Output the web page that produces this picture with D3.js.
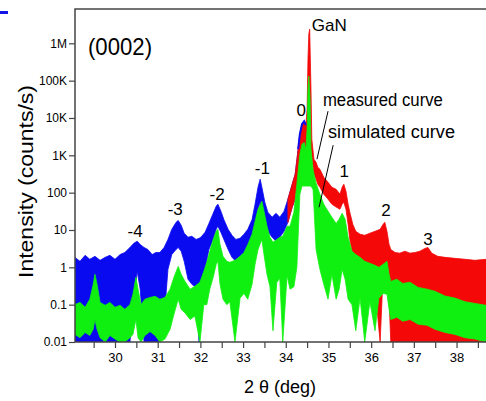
<!DOCTYPE html>
<html><head><meta charset="utf-8">
<script src="https://cdn.jsdelivr.net/npm/d3@7"></script>
<style>body{margin:0;background:#fff} svg{display:block} text{font-family:"Liberation Sans",Arial,Helvetica,sans-serif;fill:#000}</style>
</head><body><svg id="c" width="486" height="401"></svg>
<script>
// ---- data ----
const measX = [29.06,29.18,29.30,29.41,29.53,29.65,29.77,29.88,30.00,30.12,30.23,30.35,30.44,30.52,30.59,30.68,30.77,30.87,30.96,31.05,31.15,31.24,31.33,31.43,31.48,31.55,31.62,31.71,31.80,31.90,31.97,32.01,32.11,32.20,32.30,32.37,32.41,32.48,32.55,32.65,32.74,32.83,32.93,33.02,33.11,33.21,33.28,33.35,33.40,33.44,33.51,33.58,33.68,33.77,33.86,33.96,34.05,34.15,34.22,34.29,34.33,34.38,34.43,34.47,34.50,34.52,34.54,34.56,34.57,34.59,34.61,34.66,34.71,34.75,34.80,34.89,34.99,35.08,35.18,35.27,35.32,35.36,35.41,35.46,35.50,35.57,35.64,35.74,35.85,35.97,36.09,36.21,36.28,36.32,36.37,36.42,36.46,36.56,36.67,36.79,36.91,37.03,37.14,37.26,37.33,37.42,37.56,37.73,37.96,38.20,38.43,38.69];
const measHi = [1.85,1.45,2.1,1.64,1.97,1.54,1.85,2.1,1.64,2.2,2.5,3.4,4.4,5.0,4.1,3.4,3.0,2.2,2.5,2.5,3.4,5.6,10.4,16,18,13.4,8.2,6.4,6.8,5.6,6.0,6.4,8.7,15,28,43,49,32,19,10.4,7.2,5.6,6.0,7.7,10.4,19,49,140,229,140,55,30,22,28,22,32,67,168,311,1460,3680,6800,8200,6400,17200,377000,1770000,2400000,700000,59000,2700,785,653,480,424,259,190,140,123,91,140,168,109,49,30,14.2,9.2,7.7,7.2,8.2,9.2,10.4,14.2,16,9.2,4.1,3.0,2.5,2.4,2.7,2.4,2.5,2.7,3.2,3.4,2.4,1.97,1.85,1.74,1.64,1.54,1.64];
const measLo = [0.01,0.01,0.01,0.01,0.01,0.01,0.01,0.01,0.01,0.01,0.01,0.01,0.14,0.78,0.26,0.01,0.01,0.01,0.01,0.01,0.04,0.88,2.2,3.0,3.4,2.7,1.45,0.48,0.35,0.29,0.01,0.35,0.88,3.0,5.6,10.4,12.6,8.7,5.6,3.0,1.85,1.45,1.45,2.2,3.0,5.6,14.2,36,55,32,16,9.2,6.4,5.0,6.4,9.2,16,41,67,229,577,1460,2700,1460,1460,1460,1460,1460,1460,1400,889,311,229,168,140,91,67,49,41,36,49,55,36,14.2,5.6,2.2,1.2,0.88,1.45,0.65,0.3,0.01,0.65,1.2,0.48,0.14,0.01,0.01,0.01,0.01,0.01,0.01,0.01,0.01,0.01,0.01,0.01,0.01,0.01,0.01,0.01,0.01];

const simX = [29.06,29.18,29.30,29.41,29.49,29.53,29.58,29.65,29.77,29.88,30.00,30.12,30.23,30.35,30.42,30.49,30.54,30.61,30.70,30.82,30.94,31.05,31.17,31.29,31.38,31.48,31.55,31.64,31.76,31.87,31.99,32.08,32.15,32.22,32.30,32.37,32.41,32.46,32.53,32.62,32.69,32.81,32.93,33.02,33.11,33.21,33.28,33.35,33.44,33.49,33.56,33.63,33.70,33.79,33.86,33.93,34.03,34.10,34.19,34.26,34.33,34.38,34.43,34.47,34.50,34.52,34.54,34.57,34.59,34.64,34.71,34.80,34.89,34.99,35.08,35.18,35.25,35.32,35.39,35.46,35.55,35.64,35.74,35.85,35.97,36.09,36.18,36.28,36.37,36.42,36.46,36.60,36.74,36.91,37.10,37.31,37.49,37.73,37.96,38.20,38.43,38.69];
const simHi = [0.10,0.115,0.085,0.14,0.35,0.65,0.35,0.115,0.096,0.115,0.085,0.096,0.075,0.10,0.19,0.54,0.26,0.10,0.14,0.156,0.167,0.14,0.156,0.26,0.54,1.06,0.65,0.42,0.26,0.31,0.40,0.78,1.36,2.7,5.6,9.2,10.4,4.1,1.97,1.45,1.36,1.54,1.97,2.5,4.1,7.7,17,36,59,32,12.6,6.4,4.7,5.6,6.4,6.8,12.6,12.6,30,168,1070,1990,2200,1460,5000,59000,132000,32000,1500,400,180,90,49,32,22,15,19.5,28,19.5,6.4,2.7,2.2,1.85,1.45,1.28,1.13,1.0,1.2,1.45,0.65,0.42,0.48,0.37,0.40,0.29,0.26,0.23,0.17,0.15,0.12,0.108,0.096];
const simLo = [0.016,0.013,0.018,0.015,0.022,0.04,0.022,0.013,0.01,0.015,0.012,0.01,0.01,0.013,0.016,0.04,0.013,0.01,0.015,0.019,0.015,0.01,0.012,0.022,0.055,0.14,0.075,0.06,0.04,0.05,0.01,0.1,0.10,0.26,0.54,1.2,1.45,0.35,0.14,0.1,0.12,0.01,0.15,0.2,0.14,0.35,1.2,3.0,5.6,2.2,0.65,0.3,0.02,0.4,0.5,0.01,0.6,0.26,0.3,1.0,90,150,150,150,150,150,150,150,150,120,3.0,0.88,0.35,0.14,0.65,0.14,0.26,0.88,0.48,0.14,0.1,0.02,0.15,0.01,0.12,0.02,0.15,0.2,0.19,0.075,0.04,0.046,0.036,0.04,0.03,0.028,0.022,0.018,0.016,0.013,0.012,0.01];

const yTickValues = [0.01,0.1,1,10,100,1e3,1e4,1e5,1e6];
const yTickLabels = ["0.01","0.1","1","10","100","1K","10K","100K","1M"];
const xTickValues = [29.5,30,30.5,31,31.5,32,32.5,33,33.5,34,34.5,35,35.5,36,36.5,37,37.5,38,38.5];
const xTickLabels = {30:"30",31:"31",32:"32",33:"33",34:"34",35:"35",36:"36",37:"37",38:"38"};

const peakNames = ["-4","-3","-2","-1","0","1","2","3"];
const peakLabelX = [30.47,31.41,32.39,33.45,34.36,35.37,36.35,37.33];
const peakLabelY = [6.4,24.8,62.5,311,11200,259,23.3,3.9];

// ---- layout ----
const W = 486, H = 401;
const m = {left:75, right:0, top:9, bottom:59};
const svg = d3.select("#c");
const x = d3.scaleLinear().domain([29.063, 38.69]).range([m.left, W - m.right]);
const y = d3.scaleLog().domain([0.01, 8.3e6]).range([H - m.bottom, m.top]);

svg.append("rect").attr("width",W).attr("height",H).attr("fill","#fff");
// small blue mark at top-left corner
svg.append("rect").attr("x",0).attr("y",11).attr("width",8).attr("height",3).attr("fill","#1414e6");

svg.append("clipPath").attr("id","clip").append("rect")
  .attr("x",m.left).attr("y",m.top).attr("width",W-m.left-m.right).attr("height",H-m.top-m.bottom);
const g = svg.append("g").attr("clip-path","url(#clip)");

const meas = measX.map((v,i)=>({x:v,hi:measHi[i],lo:measLo[i]}));
const sim = simX.map((v,i)=>({x:v,hi:simHi[i],lo:simLo[i]}));
const area = d3.area().x(d=>x(d.x)).y0(d=>y(d.lo)).y1(d=>y(d.hi));
const line = d3.line().x(d=>x(d.x)).y(d=>y(d.hi));

const BLUE="#0a0af0", RED="#f40808", GREEN="#10f010";
g.append("path").attr("d",area(meas.filter(d=>d.x<=34.47))).attr("fill",BLUE).attr("stroke",BLUE).attr("stroke-width",0.8);
g.append("path").attr("d",area(meas.filter(d=>d.x>=34.03))).attr("fill",RED).attr("stroke",RED).attr("stroke-width",0.8);
g.append("path").attr("d",line(meas.filter(d=>d.x>=34.29&&d.x<=34.47))).attr("fill","none").attr("stroke",BLUE).attr("stroke-width",2);
g.append("path").attr("d",area(sim)).attr("fill",GREEN).attr("stroke",GREEN).attr("stroke-width",0.8);

// ---- axes ----
const axCol = "#444";
const yAx = svg.append("g").attr("transform",`translate(${m.left},0)`)
  .call(d3.axisLeft(y).tickValues(yTickValues).tickFormat((d,i)=>yTickLabels[i]).tickSize(6).tickPadding(2));
const xAx = svg.append("g").attr("transform",`translate(0,${H-m.bottom})`)
  .call(d3.axisBottom(x).tickValues(xTickValues).tickFormat(d=>xTickLabels[d]||"").tickSize(6).tickPadding(5));
[yAx,xAx].forEach(a=>{a.select(".domain").remove(); a.selectAll("line").attr("stroke",axCol).attr("stroke-width",1.2);});
yAx.selectAll("text").style("font-size","12px").attr("fill","#111");
xAx.selectAll("text").style("font-size","13px").attr("fill","#111");

// frame
svg.append("path").attr("d",`M${W},${m.top}H${m.left}V${H-m.bottom}H${W}`)
  .attr("fill","none").attr("stroke",axCol).attr("stroke-width",1.5);

// ---- texts ----
svg.append("text").attr("x",88).attr("y",55).attr("textLength",64).attr("lengthAdjust","spacingAndGlyphs").style("font-size","24px").text("(0002)");
svg.append("text").attr("transform",`translate(33,${(85+278)/2}) rotate(-90)`).attr("text-anchor","middle")
  .attr("textLength",193).attr("lengthAdjust","spacingAndGlyphs").style("font-size","21px").text("Intensity (counts/s)");
svg.append("text").attr("x",280).attr("y",393).attr("text-anchor","middle").style("font-size","18px").text("2 θ (deg)");

peakNames.forEach((n,i)=>{
  svg.append("text").attr("x",x(peakLabelX[i])).attr("y",y(peakLabelY[i])).attr("text-anchor","middle").style("font-size","17px").text(n);
});
svg.append("text").attr("x",x(34.61)).attr("y",y(2.12e6)).attr("textLength",35).attr("lengthAdjust","spacingAndGlyphs").style("font-size","17px").text("GaN");
svg.append("text").attr("x",x(34.87)).attr("y",y(20700)).attr("textLength",120).attr("lengthAdjust","spacingAndGlyphs").style("font-size","18px").text("measured curve");
svg.append("text").attr("x",x(34.99)).attr("y",y(2870)).attr("textLength",127).attr("lengthAdjust","spacingAndGlyphs").style("font-size","18px").text("simulated curve");
svg.append("line").attr("x1",x(34.99)).attr("y1",y(15200)).attr("x2",x(34.73)).attr("y2",y(786)).attr("stroke","#000").attr("stroke-width",1);
svg.append("line").attr("x1",x(35.11)).attr("y1",y(1870)).attr("x2",x(34.78)).attr("y2",y(40.6)).attr("stroke","#000").attr("stroke-width",1);
</script></body></html>
